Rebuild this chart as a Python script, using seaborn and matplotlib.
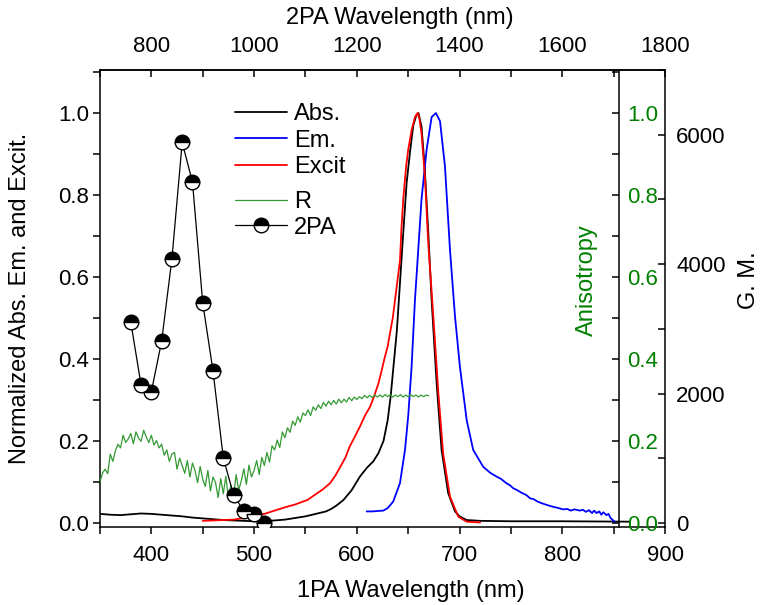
import numpy as np
import pandas as pd
import matplotlib
matplotlib.use("Agg")
import matplotlib.pyplot as plt
import seaborn as sns
from matplotlib.ticker import MultipleLocator, FormatStrFormatter

sns.set_style("ticks")
plt.rcParams['font.family'] = ['Liberation Sans', 'DejaVu Sans']
plt.rcParams['font.size'] = 16
plt.rcParams['axes.linewidth'] = 1.1
for k in ['text.color', 'axes.labelcolor', 'xtick.color', 'ytick.color',
          'axes.edgecolor', 'xtick.labelcolor', 'ytick.labelcolor']:
    plt.rcParams[k] = 'black'

# ---------------- data ----------------
abs_wl = [350, 360, 370, 380, 390, 400, 410, 420, 430, 440, 450, 460, 470, 480, 490,
          500, 510, 520, 530, 540, 550, 560, 570, 575, 580, 587, 595, 603, 610, 616,
          621, 626, 630, 633, 636, 639, 642, 645, 648.5, 652, 655, 658, 660, 663, 666,
          669.6, 672.8, 677.7, 682.5, 689, 695.6, 700, 707, 720, 750, 800, 865]
abs_val = [0.022, 0.020, 0.019, 0.021, 0.023, 0.022, 0.020, 0.018, 0.016, 0.013, 0.011,
           0.009, 0.007, 0.006, 0.005, 0.004, 0.004, 0.006, 0.008, 0.012, 0.016, 0.022,
           0.028, 0.034, 0.042, 0.056, 0.080, 0.113, 0.135, 0.150, 0.170, 0.200, 0.250,
           0.310, 0.390, 0.470, 0.585, 0.700, 0.830, 0.910, 0.970, 0.995, 1.000, 0.967,
           0.870, 0.707, 0.544, 0.340, 0.178, 0.072, 0.028, 0.016, 0.007, 0.005, 0.004,
           0.004, 0.003]

em_wl = [609.6, 615, 620, 625.8, 630, 635.4, 642, 646.9, 650, 653.3, 656.6, 659.8, 663,
         667.9, 672.8, 677, 681, 685.8, 690.7, 695.6, 700.4, 707, 713.3, 723, 730, 736,
         740, 745, 750, 752, 756, 760, 765, 768.6, 772, 776, 780, 784.7, 790, 795, 801,
         805, 808, 812, 817, 820, 823, 826, 829, 831, 833.4, 836, 838, 840, 843, 845,
         847, 849.6, 851]
em_val = [0.028, 0.028, 0.029, 0.030, 0.036, 0.052, 0.097, 0.178, 0.260, 0.380, 0.544,
          0.666, 0.790, 0.910, 0.990, 1.000, 0.980, 0.870, 0.666, 0.503, 0.380, 0.250,
          0.178, 0.137, 0.122, 0.113, 0.108, 0.098, 0.090, 0.085, 0.080, 0.074, 0.068,
          0.060, 0.058, 0.052, 0.048, 0.044, 0.040, 0.037, 0.033, 0.034, 0.030, 0.033,
          0.030, 0.032, 0.027, 0.031, 0.024, 0.030, 0.024, 0.028, 0.020, 0.026, 0.019,
          0.022, 0.012, 0.006, 0.003]

exc_wl = [450, 460, 470, 480, 490, 500, 510, 520, 530, 540, 552, 560, 567, 574, 579,
          584, 589, 593, 598, 603, 608, 613, 617, 621, 624, 627.4, 630, 632.3, 635,
          637.2, 640, 642, 643.5, 645.2, 648, 650, 653.3, 656.6, 659.2, 661, 663, 666.4,
          669.6, 674.5, 679.4, 684, 690.7, 698.8, 707, 720]
exc_val = [0.005, 0.006, 0.007, 0.008, 0.012, 0.018, 0.022, 0.030, 0.038, 0.045, 0.056,
           0.070, 0.082, 0.097, 0.115, 0.137, 0.160, 0.186, 0.210, 0.235, 0.262, 0.284,
           0.310, 0.340, 0.370, 0.406, 0.430, 0.463, 0.500, 0.544, 0.600, 0.640, 0.720,
           0.790, 0.870, 0.910, 0.958, 0.990, 1.000, 0.985, 0.950, 0.840, 0.680, 0.503,
           0.316, 0.170, 0.064, 0.015, 0.003, 0.001]

# anisotropy R, sampled every 2.5 nm from 350 to 670 nm
r_wl = np.arange(350.0, 670.1, 2.5)
r_val = [0.100, 0.122, 0.131, 0.120, 0.168, 0.150, 0.176, 0.192, 0.183, 0.214,
         0.196, 0.205, 0.218, 0.193, 0.222, 0.207, 0.199, 0.226, 0.210, 0.196,
         0.214, 0.190, 0.201, 0.183, 0.192, 0.165, 0.178, 0.150, 0.168, 0.172,
         0.131, 0.158, 0.140, 0.121, 0.152, 0.112, 0.146, 0.128, 0.098, 0.138,
         0.106, 0.089, 0.128, 0.078, 0.112, 0.098, 0.062, 0.108, 0.071, 0.114,
         0.058, 0.092, 0.065, 0.118, 0.080, 0.102, 0.132, 0.094, 0.141, 0.112,
         0.128, 0.152, 0.118, 0.160, 0.140, 0.172, 0.148, 0.188, 0.178, 0.202,
         0.184, 0.222, 0.208, 0.232, 0.221, 0.248, 0.238, 0.259, 0.246, 0.268,
         0.262, 0.276, 0.262, 0.283, 0.275, 0.288, 0.279, 0.294, 0.285, 0.297,
         0.288, 0.299, 0.290, 0.302, 0.293, 0.302, 0.295, 0.306, 0.298, 0.307,
         0.301, 0.308, 0.303, 0.311, 0.305, 0.311, 0.306, 0.312, 0.307, 0.312,
         0.307, 0.313, 0.308, 0.313, 0.307, 0.312, 0.308, 0.313, 0.307, 0.312,
         0.308, 0.313, 0.308, 0.312, 0.307, 0.312, 0.308, 0.312, 0.310]

tpa_wl = [760, 780, 800, 820, 840, 860, 880, 900, 920, 940, 960, 980, 1000, 1020]
tpa_gm = [3100, 2130, 2030, 2810, 4080, 5880, 5270, 3400, 2350, 1010, 430, 185, 140, 0]

# ---------------- figure ----------------
W, H = 764, 605
fig = plt.figure(figsize=(W / 100, H / 100), dpi=100)
L, R_, T, B = 100, 665, 70, 527
pos = [L / W, 1 - B / H, (R_ - L) / W, (B - T) / H]

ax = fig.add_axes(pos)
ax_r = ax.twinx()
ax_t = fig.add_axes(pos)
ax_t.patch.set_visible(False)

lw = 1.3
sns.lineplot(x=abs_wl, y=abs_val, ax=ax, color="black", lw=lw, sort=False,
             estimator=None, label="Abs.", legend=False)
sns.lineplot(x=em_wl, y=em_val, ax=ax, color="#0000ff", lw=lw, sort=False,
             estimator=None, label="Em.", legend=False)
sns.lineplot(x=exc_wl, y=exc_val, ax=ax, color="#ff0000", lw=lw, sort=False,
             estimator=None, label="Excit", legend=False)
sns.lineplot(x=r_wl, y=r_val, ax=ax_r, color="#349a34", lw=0.9, sort=False,
             estimator=None, label="R", legend=False)
sns.lineplot(x=tpa_wl, y=tpa_gm, ax=ax_t, color="black", lw=0.9, sort=False,
             estimator=None, label="2PA", legend=False, marker="o",
             markersize=10.5, fillstyle="top", markerfacecolor="black",
             markerfacecoloralt="white", markeredgecolor="black",
             markeredgewidth=1.0)

# main axes: bottom x, left y
ax.set_xlim(350, 900)
ax.set_ylim(-0.01, 1.105)
ax.xaxis.set_major_locator(MultipleLocator(100))
ax.xaxis.set_minor_locator(MultipleLocator(50))
ax.yaxis.set_major_locator(MultipleLocator(0.2))
ax.yaxis.set_minor_locator(MultipleLocator(0.1))
ax.yaxis.set_major_formatter(FormatStrFormatter('%.1f'))
ax.tick_params(axis='both', which='both', direction='out', labelsize=16,
               width=1.1, length=5, top=False, right=False)
ax.tick_params(axis='x', pad=8)
ax.tick_params(axis='y', pad=3)
ax.spines['right'].set_visible(False)
ax.set_xlabel("1PA Wavelength (nm)", fontsize=17)
ax.set_ylabel("Normalized Abs. Em. and Excit.", fontsize=17)
ax.xaxis.set_label_coords(0.55, -0.115)
ax.yaxis.set_label_coords(-0.122, 0.5)

# anisotropy axis
ax_r.set_ylim(-0.01, 1.105)
ax_r.yaxis.set_major_locator(MultipleLocator(0.2))
ax_r.yaxis.set_minor_locator(MultipleLocator(0.1))
ax_r.yaxis.set_major_formatter(FormatStrFormatter('%.1f'))
for s in ['left', 'top', 'bottom']:
    ax_r.spines[s].set_visible(False)
ax_r.spines['right'].set_position(('axes', (619 - L) / (R_ - L)))
ax_r.tick_params(axis='y', which='both', direction='in', length=5, width=1.1,
                 labelsize=16, labelcolor="#008000", pad=6)
ax_r.set_ylabel("Anisotropy", color="#008000", fontsize=17)
ax_r.yaxis.set_label_coords(0.842, 0.54)

# 2PA axis: top x, right y (G.M.)
ax_t.set_xlim(700, 1800)
ax_t.set_ylim(-62, 7000)
ax_t.xaxis.tick_top()
ax_t.xaxis.set_label_position('top')
ax_t.yaxis.tick_right()
ax_t.yaxis.set_label_position('right')
ax_t.spines['left'].set_visible(False)
ax_t.spines['bottom'].set_visible(False)
ax_t.xaxis.set_major_locator(MultipleLocator(200))
ax_t.xaxis.set_minor_locator(MultipleLocator(100))
ax_t.yaxis.set_major_locator(MultipleLocator(2000))
ax_t.yaxis.set_minor_locator(MultipleLocator(1000))
ax_t.tick_params(axis='both', which='both', direction='in', length=5, width=1.1,
                 labelsize=16)
ax_t.tick_params(axis='x', pad=9)
ax_t.tick_params(axis='y', pad=8)
ax_t.set_xlabel("2PA Wavelength (nm)", fontsize=17)
ax_t.xaxis.set_label_coords(0.53, 1.1)
ax_t.set_ylabel("G. M.", fontsize=17)
ax_t.yaxis.set_label_coords(1.13, 0.54)

# legends
h_main = ax.get_lines()
h_r = ax_r.get_lines()
h_t = ax_t.get_lines()
leg1 = ax_t.legend(handles=list(h_main), labels=["Abs.", "Em.", "Excit"],
                   loc='upper left', bbox_to_anchor=(235 / W, 1 - 103 / H),
                   bbox_transform=fig.transFigure, frameon=False, fontsize=17,
                   borderpad=0, borderaxespad=0, handlelength=2.2,
                   handletextpad=0.3, labelspacing=0.2)
ax_t.add_artist(leg1)
leg2 = ax_t.legend(handles=[h_r[0], h_t[0]], labels=["R", "2PA"],
                   loc='upper left', bbox_to_anchor=(235 / W, 1 - 191 / H),
                   bbox_transform=fig.transFigure, frameon=False, fontsize=17,
                   borderpad=0, borderaxespad=0, handlelength=2.2,
                   handletextpad=0.3, labelspacing=0.15)

fig.savefig("out.png", dpi=100)
